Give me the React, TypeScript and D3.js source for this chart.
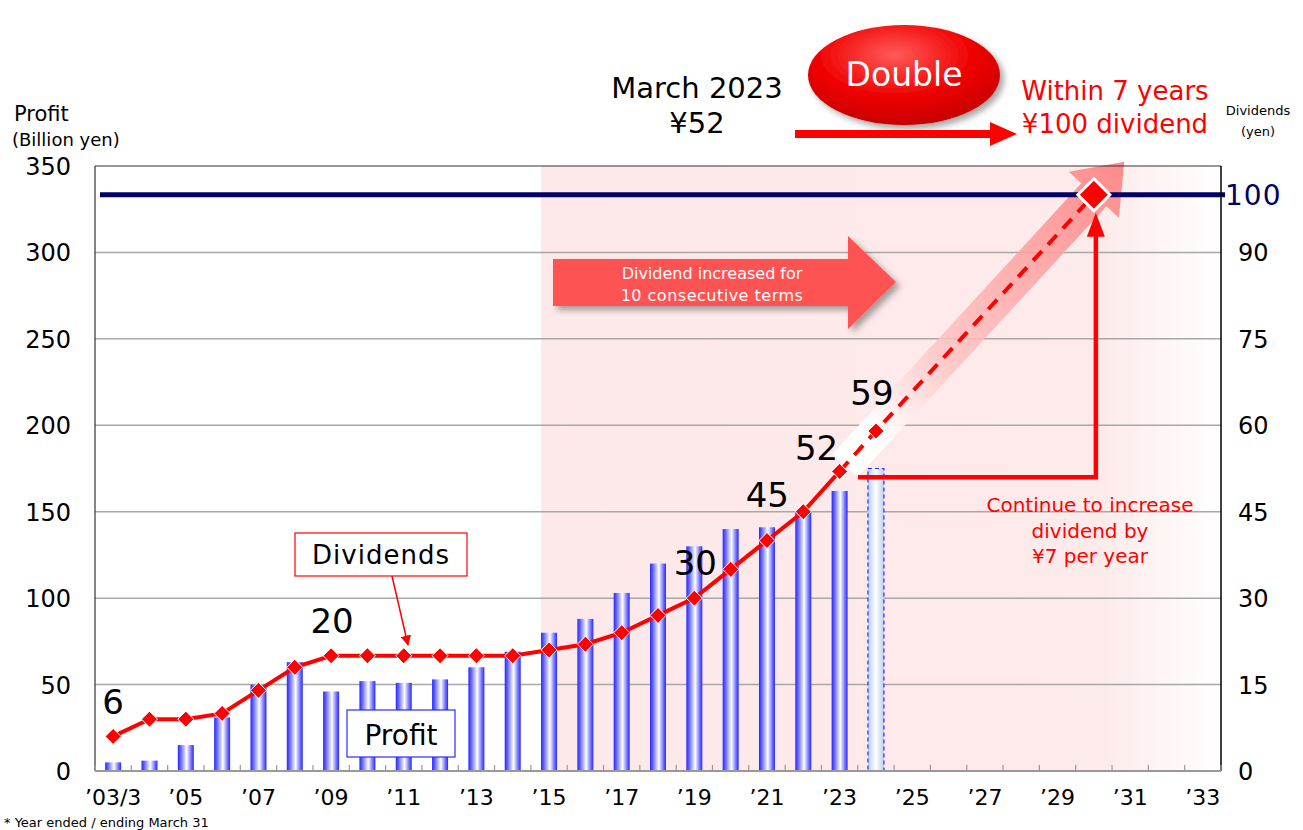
import React from 'react';
import * as d3 from 'd3';

// fiscal years ended March 31
const years = ['2003', '2004', '2005', '2006', '2007', '2008', '2009', '2010', '2011', '2012', '2013', '2014', '2015', '2016', '2017', '2018', '2019', '2020', '2021', '2022', '2023', '2024', '2025', '2026', '2027', '2028', '2029', '2030', '2031', '2032', '2033'];
const tickYears = ['2003', '2005', '2007', '2009', '2011', '2013', '2015', '2017', '2019', '2021', '2023', '2025', '2027', '2029', '2031', '2033'];
const tickLabels = ['’03/3', '’05', '’07', '’09', '’11', '’13', '’15', '’17', '’19', '’21', '’23', '’25', '’27', '’29', '’31', '’33'];

// profit, billion yen
const profitYears = ['2003', '2004', '2005', '2006', '2007', '2008', '2009', '2010', '2011', '2012', '2013', '2014', '2015', '2016', '2017', '2018', '2019', '2020', '2021', '2022', '2023'];
const profit = [5, 6, 15, 31, 50, 63, 46, 52, 51, 53, 60, 69, 80, 88, 103, 120, 130, 140, 141, 150, 162];
const forecastProfitYears = ['2024'];
const forecastProfit = [175];

// dividends, yen
const dividends = [6, 9, 9, 10, 14, 18, 20, 20, 20, 20, 20, 20, 21, 22, 24, 27, 30, 35, 40, 45, 52];
const forecastDivYears = ['2023', '2024', '2030'];
const forecastDiv = [52, 59, 100];

const labelYears = ['2003', '2009', '2019', '2022', '2023', '2024'];
const labelValues = [6, 20, 30, 45, 52, 59];

const leftTicks = [0, 50, 100, 150, 200, 250, 300, 350];
const rightTicks = [0, 15, 30, 45, 60, 75, 90];

const FONT = "'DejaVu Sans', 'Noto Sans', sans-serif";

export default function App() {
  const left = 95, right = 1221, top = 166, bottom = 771;
  const x = d3.scaleBand().domain(years).range([left, right]).padding(0);
  const cx = (y: string) => (x(y) as number) + x.bandwidth() / 2;
  const yL = d3.scaleLinear().domain([0, 350]).range([bottom, top]);
  const yR = d3.scaleLinear().domain([0, 105]).range([bottom, top]);
  const barW = 16;

  const line = d3.line<[number, number]>().x(d => d[0]).y(d => d[1]);
  const divPts: [number, number][] = profitYears.map((y, i) => [cx(y), yR(dividends[i])]);
  const fcPts: [number, number][] = forecastDivYears.map((y, i) => [cx(y), yR(forecastDiv[i])]);

  // label offsets (dx, dy) relative to the marker
  const labelOff: Record<string, [number, number]> = {
    '2003': [0, -22], '2009': [1, -23], '2019': [1, -23], '2022': [-36, -5], '2023': [-23, -11], '2024': [-4, -26],
  };

  // big translucent arrow toward ¥100
  const p23 = fcPts[0];
  const pGoal = fcPts[2];
  const dxA = pGoal[0] - p23[0], dyA = pGoal[1] - p23[1];
  const lenA = Math.hypot(dxA, dyA);
  const u = [dxA / lenA, dyA / lenA];
  const n = [-u[1], u[0]];
  const S = [p23[0] + u[0] * 8, p23[1] + u[1] * 8];
  const T = [pGoal[0] + u[0] * 45, pGoal[1] + u[1] * 45];
  const Hh = [T[0] - u[0] * 45, T[1] - u[1] * 45];
  const bw = 17, hw = 34;
  const bigArrow = [
    [S[0] + n[0] * bw, S[1] + n[1] * bw],
    [Hh[0] + n[0] * bw, Hh[1] + n[1] * bw],
    [Hh[0] + n[0] * hw, Hh[1] + n[1] * hw],
    T,
    [Hh[0] - n[0] * hw, Hh[1] - n[1] * hw],
    [Hh[0] - n[0] * bw, Hh[1] - n[1] * bw],
    [S[0] - n[0] * bw, S[1] - n[1] * bw],
  ].map(p => p.join(',')).join(' ');

  const shadeX = cx('2015') - barW / 2;
  const elbowY = yR(51);
  const elbowX0 = cx('2024') - 18;
  const elbowX1 = pGoal[0] + 2;

  const diamond = (r: number) => `M0,${-r}L${r},0L0,${r}L${-r},0Z`;

  return (
    <div style={{ position: 'absolute', left: 0, top: 0 }}>
      <svg width={1303} height={830} style={{ display: 'block', fontFamily: FONT }}>
        <defs>
          <linearGradient id="barGrad" x1="0" x2="1" y1="0" y2="0">
            <stop offset="0" stopColor="#2828ff" />
            <stop offset="0.15" stopColor="#5a5aff" />
            <stop offset="0.55" stopColor="#ffffff" />
            <stop offset="0.85" stopColor="#6a6aff" />
            <stop offset="1" stopColor="#2828ff" />
          </linearGradient>
          <linearGradient id="fcGrad" x1="0" x2="1" y1="0" y2="0">
            <stop offset="0" stopColor="#b8cdea" />
            <stop offset="0.5" stopColor="#ffffff" />
            <stop offset="1" stopColor="#b8cdea" />
          </linearGradient>
          <linearGradient id="shadeGrad" gradientUnits="userSpaceOnUse" x1={shadeX} x2={right} y1="0" y2="0">
            <stop offset="0" stopColor="#fde9e9" />
            <stop offset="0.82" stopColor="#fdeaea" />
            <stop offset="1" stopColor="#ffffff" />
          </linearGradient>
          <linearGradient id="bigArrowGrad" gradientUnits="userSpaceOnUse" x1={S[0]} y1={S[1]} x2={T[0]} y2={T[1]}>
            <stop offset="0" stopColor="#ffffff" stopOpacity="1" />
            <stop offset="0.12" stopColor="#ffffff" stopOpacity="0.9" />
            <stop offset="0.35" stopColor="#ffc4c4" stopOpacity="0.85" />
            <stop offset="1" stopColor="#ff7f7f" stopOpacity="0.9" />
          </linearGradient>
          <radialGradient id="ellGrad" cx="0.45" cy="0.3" r="0.75">
            <stop offset="0" stopColor="#ff5a5a" />
            <stop offset="0.55" stopColor="#f00000" />
            <stop offset="1" stopColor="#c00000" />
          </radialGradient>
          <filter id="shadow" x="-20%" y="-20%" width="150%" height="160%">
            <feDropShadow dx="4" dy="4" stdDeviation="3" floodColor="#000" floodOpacity="0.35" />
          </filter>
          <marker id="arrHead" viewBox="0 0 10 10" refX="9" refY="5" markerWidth="7" markerHeight="7" orient="auto">
            <path d="M0,0L10,5L0,10Z" fill="#ff0000" />
          </marker>
        </defs>

        {/* shaded forecast region */}
        <rect x={shadeX} y={top} width={right - shadeX} height={bottom - top} fill="url(#shadeGrad)" />

        {/* grid */}
        {leftTicks.filter(t => t > 0 && t < 350).map(t => (
          <line key={t} x1={left} x2={right} y1={yL(t)} y2={yL(t)} stroke="#a8a8a8" strokeWidth={1.5} />
        ))}

        {/* bars */}
        {profitYears.map((y, i) => (
          <rect key={y} x={cx(y) - barW / 2} y={yL(profit[i])} width={barW} height={bottom - yL(profit[i])} fill="url(#barGrad)" />
        ))}
        {forecastProfitYears.map((y, i) => (
          <rect key={y} x={cx(y) - barW / 2} y={yL(forecastProfit[i])} width={barW} height={bottom - yL(forecastProfit[i])}
            fill="url(#fcGrad)" stroke="#2a2aff" strokeWidth={1.2} strokeDasharray="4,3" />
        ))}

        {/* big arrow */}
        <polygon points={bigArrow} fill="url(#bigArrowGrad)" />

        {/* ¥100 line */}
        <line x1={left + 5} x2={right + 4} y1={yR(100)} y2={yR(100)} stroke="#000066" strokeWidth={5} />

        {/* dividend line */}
        <path d={line(divPts) as string} fill="none" stroke="#ff0000" strokeWidth={4} />
        <path d={line(fcPts) as string} fill="none" stroke="#ff0000" strokeWidth={4} strokeDasharray="13,9" />
        {divPts.concat([fcPts[1]]).map((p, i) => (
          <path key={i} d={diamond(8)} transform={`translate(${p[0]},${p[1]})`} fill="#ff0000" stroke="#ffffff" strokeWidth={1} />
        ))}
        <path d={diamond(16)} transform={`translate(${pGoal[0]},${pGoal[1]})`} fill="#ff0000" stroke="#ffffff" strokeWidth={3} />

        {/* value labels */}
        {labelYears.map((y, i) => {
          const [dx, dy] = labelOff[y];
          return (
            <text key={y} x={cx(y) + dx} y={yR(labelValues[i]) + dy} textAnchor="middle" fontSize={34} fill="#000">{labelValues[i]}</text>
          );
        })}

        {/* axes frame */}
        <line x1={left} x2={right} y1={top} y2={top} stroke="#333" strokeWidth={1} />
        <line x1={left} x2={left} y1={top} y2={bottom} stroke="#333" strokeWidth={1.2} />
        <line x1={right} x2={right} y1={top} y2={bottom} stroke="#000" strokeWidth={1.5} />
        <line x1={left} x2={right} y1={bottom} y2={bottom} stroke="#999" strokeWidth={2} />
        {years.map(y => (
          <line key={y} x1={x(y) as number} x2={x(y) as number} y1={bottom} y2={bottom - 6} stroke="#999" strokeWidth={1.2} />
        ))}
        <line x1={right} x2={right} y1={bottom} y2={bottom - 6} stroke="#999" strokeWidth={1.2} />

        {/* left axis */}
        {leftTicks.map(t => (
          <text key={t} x={71} y={yL(t) + 9} textAnchor="end" fontSize={24} fill="#000">{t}</text>
        ))}
        <text x={14} y={121} fontSize={21} fill="#000">Profit</text>
        <text x={12} y={146} fontSize={18} fill="#000">(Billion yen)</text>

        {/* right axis */}
        {rightTicks.map(t => (
          <text key={t} x={1238} y={yR(t) + 9} fontSize={24} fill="#000">{t}</text>
        ))}
        <text x={1225} y={yR(100) + 10} fontSize={28} fill="#000066" letterSpacing="1">100</text>
        <text x={1258} y={115} textAnchor="middle" fontSize={13} fill="#000">Dividends</text>
        <text x={1258} y={136} textAnchor="middle" fontSize={13} fill="#000">(yen)</text>

        {/* x axis */}
        {tickYears.map((y, i) => (
          <text key={y} x={cx(y)} y={805} textAnchor="middle" fontSize={22} fill="#000">{tickLabels[i]}</text>
        ))}
        <text x={4} y={827} fontSize={13} fill="#000">* Year ended / ending March 31</text>

        {/* legend boxes */}
        <rect x={295} y={533} width={172} height={43} fill="#fff" stroke="#ff0000" strokeWidth={1.2} />
        <text x={381} y={564} textAnchor="middle" fontSize={26} fill="#000" letterSpacing="1">Dividends</text>
        <line x1={392} y1={576} x2={408} y2={645} stroke="#ff0000" strokeWidth={1.5} markerEnd="url(#arrHead)" />
        <rect x={347} y={710} width={108} height={47} fill="#fff" stroke="#2a2aff" strokeWidth={1.2} />
        <text x={401} y={745} textAnchor="middle" fontSize={28} fill="#000">Profit</text>

        {/* 10 consecutive terms arrow */}
        <path d="M553,259L848,259L848,236L896,282L848,329L848,306L553,306Z" fill="#ff5252" filter="url(#shadow)" />
        <text x={712} y={279} textAnchor="middle" fontSize={16} fill="#fff">Dividend increased for</text>
        <text x={712} y={301} textAnchor="middle" fontSize={16} fill="#fff" letterSpacing="0.5">10 consecutive terms</text>

        {/* elbow arrow */}
        <path d={`M${elbowX0},${elbowY}L${elbowX1},${elbowY}L${elbowX1},${pGoal[1] + 40}`} fill="none" stroke="#ff0000" strokeWidth={4.5} />
        <path d={`M${elbowX1 - 9},${pGoal[1] + 42}L${elbowX1},${pGoal[1] + 18}L${elbowX1 + 9},${pGoal[1] + 42}Z`} fill="#ff0000" />
        <text x={1090} y={512} textAnchor="middle" fontSize={20} fill="#ff0000">Continue to increase</text>
        <text x={1090} y={538} textAnchor="middle" fontSize={20} fill="#ff0000">dividend by</text>
        <text x={1090} y={563} textAnchor="middle" fontSize={20} fill="#ff0000">¥7 per year</text>

        {/* headline */}
        <text x={697} y={98} textAnchor="middle" fontSize={29} fill="#000">March 2023</text>
        <text x={697} y={133} textAnchor="middle" fontSize={29} fill="#000">¥52</text>
        <ellipse cx={904} cy={75} rx={96} ry={50} fill="url(#ellGrad)" filter="url(#shadow)" />
        <text x={904} y={86} textAnchor="middle" fontSize={33} fill="#fff">Double</text>
        <path d="M795,130L990,130L990,122L1017,134L990,146L990,138L795,138Z" fill="#ff0000" />
        <text x={1115} y={100} textAnchor="middle" fontSize={26} fill="#ff0000">Within 7 years</text>
        <text x={1115} y={133} textAnchor="middle" fontSize={26} fill="#ff0000">¥100 dividend</text>
      </svg>
    </div>
  );
}
